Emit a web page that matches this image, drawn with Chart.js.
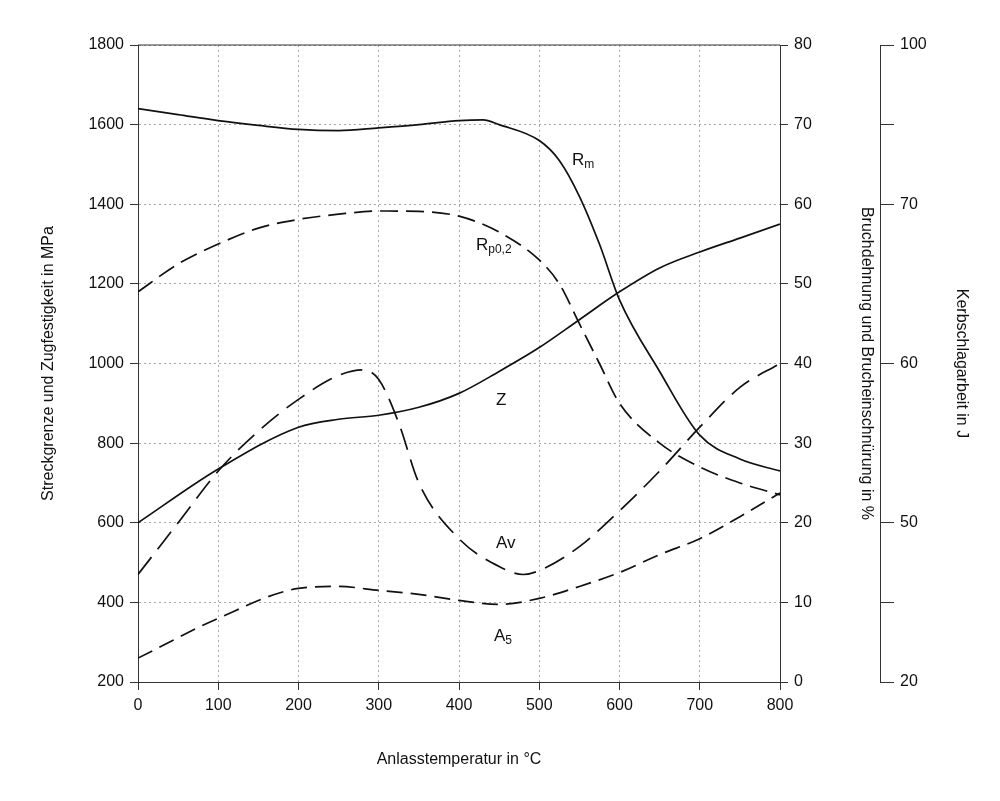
<!DOCTYPE html>
<html>
<head>
<meta charset="utf-8">
<script src="https://cdn.jsdelivr.net/npm/chart.js@4/dist/chart.umd.min.js"></script>
<style>
  body { margin: 0; background: #fff; }
  #wrap { width: 1000px; height: 801px; }
</style>
</head>
<body>
<div id="wrap"><canvas id="c"></canvas></div>
<script>
// temperatures in °C
var rmTemp = [0, 50, 100, 150, 200, 250, 300, 350, 400, 430, 450, 500, 525, 550, 575, 600, 650, 700, 750, 800];
var rmMPa  = [1640, 1625, 1610, 1598, 1588, 1585, 1592, 1600, 1610, 1612, 1600, 1560, 1510, 1420, 1300, 1160, 980, 820, 760, 730];

var rpTemp = [0, 50, 100, 150, 200, 250, 300, 350, 400, 450, 500, 525, 550, 575, 600, 650, 700, 750, 800];
var rpMPa  = [1180, 1250, 1300, 1340, 1362, 1375, 1383, 1382, 1370, 1330, 1260, 1200, 1100, 1000, 900, 800, 740, 700, 670];

var zTemp = [0, 100, 200, 250, 300, 350, 400, 450, 500, 550, 600, 650, 700, 750, 800];
var zPct  = [20, 26.75, 32, 33, 33.5, 34.5, 36.25, 39, 42, 45.5, 49, 52, 54, 55.75, 57.5];

var a5Temp = [0, 100, 200, 250, 300, 350, 400, 450, 500, 550, 600, 650, 700, 750, 800];
var a5Pct  = [3, 8, 11.75, 12, 11.5, 11, 10.25, 9.75, 10.5, 12, 13.75, 16, 18, 20.75, 23.75];

var avTemp = [0, 50, 100, 150, 200, 250, 280, 300, 325, 350, 400, 450, 480, 500, 550, 600, 650, 700, 750, 800];
var avJ    = [40.25, 50, 53.25, 55.75, 57.75, 59.25, 59.6, 59, 56.25, 52.5, 47, 41.75, 40.25, 41, 45.5, 50.75, 53.25, 56, 58.5, 60];

// Kerbschlagarbeit axis is broken: tick values and their positions on the MPa scale
var kvTicks = [20, 50, 60, 70, 100];
var kvPos   = [200, 600, 1000, 1400, 1800];

function jToPos(j) {
  for (var i = 0; i < kvTicks.length - 1; i++) {
    if (j <= kvTicks[i + 1]) {
      return kvPos[i] + (j - kvTicks[i]) / (kvTicks[i + 1] - kvTicks[i]) * (kvPos[i + 1] - kvPos[i]);
    }
  }
  return kvPos[kvPos.length - 1];
}

function pts(xs, ys, f) {
  return xs.map(function (x, i) { return { x: x, y: f ? f(ys[i]) : ys[i] }; });
}

var font = { family: 'Liberation Sans, Arial, sans-serif', size: 16 };
var tickFont = { family: 'Liberation Sans, Arial, sans-serif', size: 16 };
var plain = function (v) { return String(v); };

function line(data, axis, dash) {
  return {
    data: data, yAxisID: axis, borderColor: '#111', borderWidth: 1.7,
    borderDash: dash, pointRadius: 0, tension: 0.4, fill: false, cubicInterpolationMode: 'monotone'
  };
}

var labelsPlugin = {
  id: 'labels',
  afterDatasetsDraw: function (chart) {
    var ctx = chart.ctx, a = chart.chartArea;
    ctx.save();
    ctx.strokeStyle = '#333';
    ctx.lineWidth = 1;
    ctx.beginPath();
    ctx.moveTo(a.left, a.top); ctx.lineTo(a.right, a.top);
    ctx.stroke();
    ctx.fillStyle = '#111';
    function lab(t, sub, x, y) {
      ctx.font = '17px Liberation Sans, Arial';
      ctx.fillText(t, x, y);
      var w = ctx.measureText(t).width;
      if (sub) { ctx.font = '12px Liberation Sans, Arial'; ctx.fillText(sub, x + w, y + 5); }
    }
    ctx.textBaseline = 'middle';
    lab('R', 'm', 572, 160);
    lab('R', 'p0,2', 476, 245);
    lab('Z', '', 496, 400);
    lab('Av', '', 496, 543);
    lab('A', '5', 494, 636);
    ctx.restore();
  }
};

new Chart(document.getElementById('c'), {
  type: 'line',
  data: {
    datasets: [
      line(pts(rmTemp, rmMPa), 'y', []),
      line(pts(rpTemp, rpMPa), 'y', [18, 8]),
      line(pts(zTemp, zPct), 'y2', []),
      line(pts(avTemp, avJ, jToPos), 'y3', [22, 10]),
      line(pts(a5Temp, a5Pct), 'y2', [16, 8])
    ]
  },
  options: {
    responsive: true,
    maintainAspectRatio: false,
    animation: false,
    layout: { padding: { top: 45, right: 25, left: 35, bottom: 28 } },
    plugins: { legend: { display: false }, tooltip: { enabled: false } },
    scales: {
      x: {
        type: 'linear', min: 0, max: 800,
        ticks: { stepSize: 100, font: tickFont, color: '#111', padding: 6, callback: plain },
        grid: { color: '#aaa', tickBorderDash: [], tickColor: '#333', tickLength: 8 },
        border: { display: true, color: '#333', dash: [2, 3] },
        title: { display: true, text: 'Anlasstemperatur in °C', font: font, color: '#111', padding: { top: 22 } },
        afterFit: function (s) { s.height = 91; }
      },
      y: {
        position: 'left', min: 200, max: 1800,
        ticks: { stepSize: 200, font: tickFont, color: '#111', padding: 6, callback: plain },
        grid: { color: '#aaa', tickBorderDash: [], tickColor: '#333', tickLength: 8 },
        border: { display: true, color: '#333', dash: [2, 3] },
        title: { display: true, text: 'Streckgrenze und Zugfestigkeit in MPa', font: font, color: '#111' },
        afterFit: function (s) { s.width = 103; }
      },
      y2: {
        position: 'right', min: 0, max: 80,
        ticks: { stepSize: 10, font: tickFont, color: '#111', padding: 6 },
        grid: { drawOnChartArea: false, tickColor: '#333', tickLength: 8 },
        border: { display: true, color: '#333' },
        title: { display: true, text: 'Bruchdehnung und Brucheinschnürung in %', font: font, color: '#111', padding: { top: 4, bottom: 18 } },
        afterFit: function (s) { s.width = 100; }
      },
      y3: {
        position: 'right', min: 200, max: 1800,
        afterBuildTicks: function (s) {
          s.ticks = [200, 400, 600, 1000, 1400, 1600, 1800].map(function (v) { return { value: v }; });
        },
        ticks: {
          font: tickFont, color: '#111', padding: 6,
          callback: function (v) { var i = kvPos.indexOf(v); return i >= 0 ? String(kvTicks[i]) : ''; }
        },
        grid: { drawOnChartArea: false, tickColor: '#333', tickLength: 14 },
        border: { display: true, color: '#333' },
        title: { display: true, text: 'Kerbschlagarbeit in J', font: font, color: '#111' },
        afterFit: function (s) { s.width = 95; }
      }
    }
  },
  plugins: [labelsPlugin]
});
</script>
</body>
</html>
